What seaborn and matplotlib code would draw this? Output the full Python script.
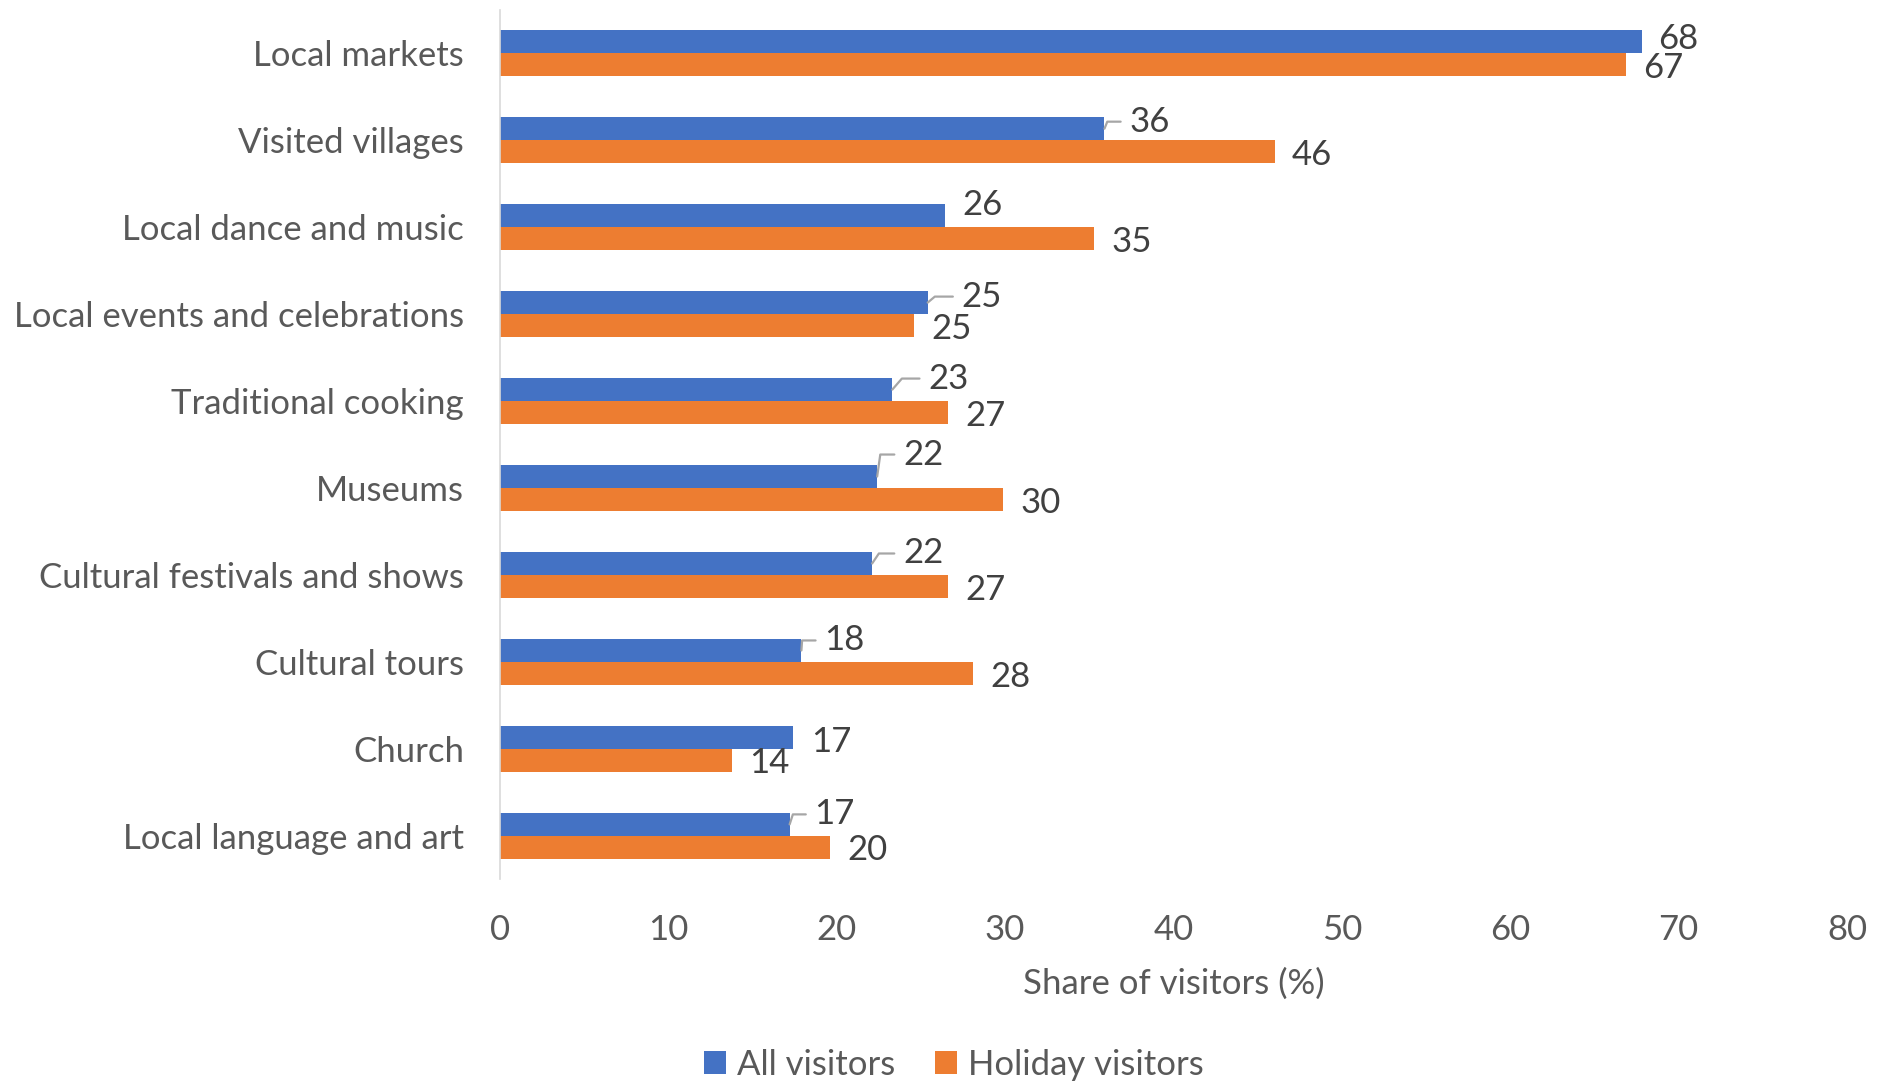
import matplotlib
matplotlib.use("Agg")
import matplotlib.pyplot as plt
import seaborn as sns
import pandas as pd

# Cultural activities, share of visitors (%)
categories = [
    "Local markets",
    "Visited villages",
    "Local dance and music",
    "Local events and celebrations",
    "Traditional cooking",
    "Museums",
    "Cultural festivals and shows",
    "Cultural tours",
    "Church",
    "Local language and art",
]
all_visitors = [67.8, 35.9, 26.4, 25.4, 23.3, 22.4, 22.1, 17.9, 17.4, 17.2]
holiday_visitors = [66.9, 46.0, 35.3, 24.6, 26.6, 29.9, 26.6, 28.1, 13.8, 19.6]
series_names = ["All visitors", "Holiday visitors"]
x_ticks = [0, 10, 20, 30, 40, 50, 60, 70, 80]
x_label = "Share of visitors (%)"

# Label placement in pixels relative to the bar end: (dx, dy down, leader angle)
blue_label_layout = [
    (17, -6, None),
    (25, -10, 68),
    (18, -14, None),
    (34, -9, 40),
    (36, -14, 49),
    (26, -25, 82),
    (31, -13, 56),
    (23, -13, 86),
    (18, 2, None),
    (25, -13, 72),
]
orange_label_layout = [(17, 0)] * len(categories)

BLUE = "#4472C4"
ORANGE = "#ED7D31"
TEXT = "#595959"
NUM = "#404040"
LEADER = "#A6A6A6"
FONT = ["Lato", "DejaVu Sans"]
FS = 25

df = pd.DataFrame({
    "category": categories * 2,
    "series": [series_names[0]] * len(categories) + [series_names[1]] * len(categories),
    "value": all_visitors + holiday_visitors,
})

sns.set_theme(style="white")
plt.rcParams["font.family"] = FONT

fig = plt.figure(figsize=(18.77, 10.83), dpi=100)
ax = fig.add_axes([0.2664, 0.188, 0.984 - 0.2664, 0.991 - 0.188])

sns.barplot(
    data=df, y="category", x="value", hue="series", orient="h",
    palette=[BLUE, ORANGE], width=0.53, saturation=1, ax=ax,
    legend=True, edgecolor="none",
)

ax.set_xlim(0, 80)
ax.set_xticks(x_ticks)
ax.set_xticklabels([str(t) for t in x_ticks])
ax.tick_params(axis="x", length=0, pad=25, labelsize=FS, labelcolor=TEXT)
ax.tick_params(axis="y", length=0, pad=26, labelsize=FS, labelcolor=TEXT)
ax.set_ylabel("")
ax.set_xlabel(x_label, fontsize=FS, color=TEXT, va="center")
ax.xaxis.set_label_coords(0.5, -104 / 869)

for s in ["top", "right", "bottom"]:
    ax.spines[s].set_visible(False)
ax.spines["left"].set_color("#D9D9D9")
ax.spines["left"].set_linewidth(1.2)
ax.grid(False)

PX = 72 / fig.dpi

blue_bars, orange_bars = ax.containers[0], ax.containers[1]

for bar, val, (dx, dy, ang) in zip(blue_bars, all_visitors, blue_label_layout):
    x = bar.get_x() + bar.get_width()
    y = bar.get_y() + bar.get_height() / 2
    kw = {}
    if ang is not None:
        kw["arrowprops"] = dict(
            arrowstyle="-", color=LEADER, lw=1.6, shrinkA=4, shrinkB=0,
            relpos=(0, 0.5),
            connectionstyle=f"angle,angleA=0,angleB={ang},rad=0",
        )
    ax.annotate(f"{val:.0f}", xy=(x, y), xytext=(dx * PX, -dy * PX),
                textcoords="offset points", ha="left", va="center_baseline",
                fontsize=FS, color=NUM, **kw)

for bar, val, (dx, dy) in zip(orange_bars, holiday_visitors, orange_label_layout):
    x = bar.get_x() + bar.get_width()
    y = bar.get_y() + bar.get_height() / 2
    ax.annotate(f"{val:.0f}", xy=(x, y), xytext=(dx * PX, -dy * PX),
                textcoords="offset points", ha="left", va="center_baseline",
                fontsize=FS, color=NUM)

handles, labels = ax.get_legend_handles_labels()
ax.get_legend().remove()
fig.legend(handles, labels, loc="center", bbox_to_anchor=(0.508, 1 - 1065 / 1083),
           ncol=2, frameon=False, fontsize=FS, labelcolor=TEXT,
           handlelength=0.65, handleheight=0.65, handletextpad=0.3, columnspacing=1.15)

fig.savefig("out.png", dpi=100)
